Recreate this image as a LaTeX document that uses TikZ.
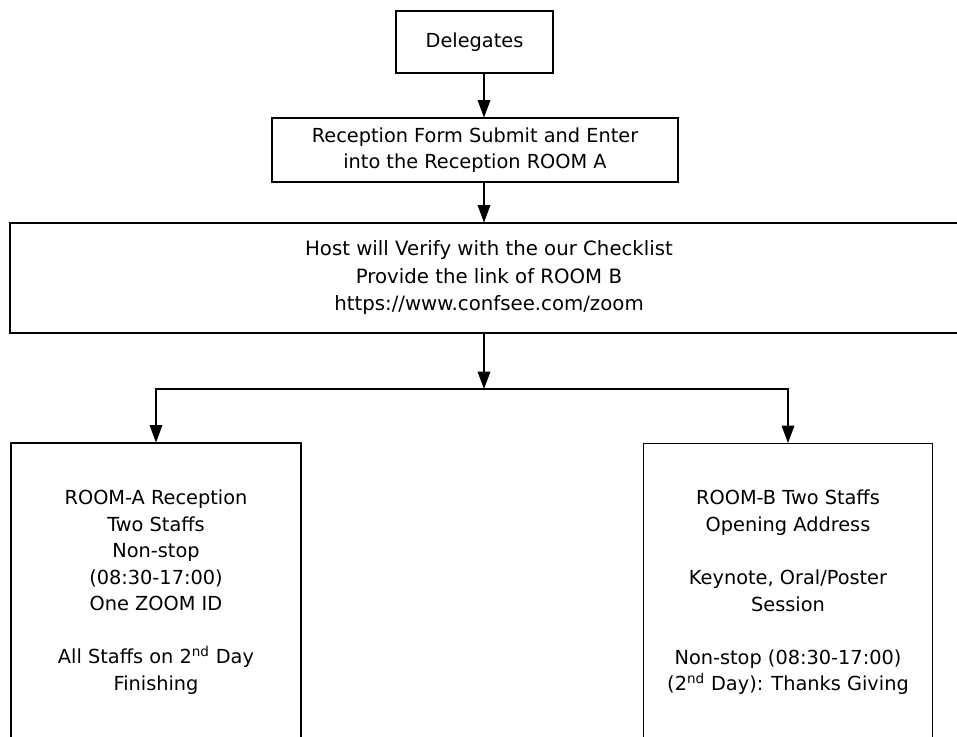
\documentclass[tikz,border=0pt]{standalone}
\usepackage{fontspec}
\setmainfont{DejaVu Sans}
\usetikzlibrary{arrows.meta}

\begin{document}
\begin{tikzpicture}[x=0.75pt, y=-0.75pt,
  box/.style={draw, line width=0.8pt, align=center, inner sep=0pt,
    font=\fontsize{14.5}{19.9}\selectfont},
  flow/.style={line width=0.8pt, -{Triangle[length=13pt, width=9.5pt]}}]
\useasboundingbox (0,0) rectangle (957,736);
\clip (0,0) rectangle (957,736);
\node[box, minimum width=157*0.75pt, minimum height=62*0.75pt] (dlg) at (474.5,42){Delegates};
\node[box, minimum width=406*0.75pt, minimum height=64*0.75pt] (rcp) at (475,150){Reception Form Submit and Enter\\into the Reception ROOM A};
\node[box, minimum width=958*0.75pt, minimum height=110*0.75pt,
  font=\fontsize{14.8}{20.6}\selectfont] (host) at (489,278){Host will Verify with the our Checklist\\Provide the link of ROOM B\\https://www.confsee.com/zoom};
\node[box, minimum width=290*0.75pt, minimum height=298*0.75pt] (lbox) at (156,592){ROOM-A Reception\\Two Staffs\\Non-stop\\(08:30-17:00)\\One ZOOM ID\\[19.9pt]All Staffs on 2\textsuperscript{nd} Day\\Finishing};
\node[box, minimum width=289*0.75pt, minimum height=298*0.75pt] (rbox) at (788,592.5){ROOM-B Two Staffs\\Opening Address\\[19.9pt]Keynote, Oral/Poster\\Session\\[19.9pt]Non-stop (08:30-17:00)\\(2\textsuperscript{nd} Day): Thanks Giving};
\coordinate (split) at (484,389);
\draw[flow](dlg.south -| split) -- (rcp.north -| split);
\draw[flow](rcp.south -| split) -- (host.north -| split);
\draw[flow](host.south -| split) -- (split);
\draw[flow](split) -| (lbox.north);
\draw[flow](split) -| (rbox.north);

\end{tikzpicture}
\end{document}
